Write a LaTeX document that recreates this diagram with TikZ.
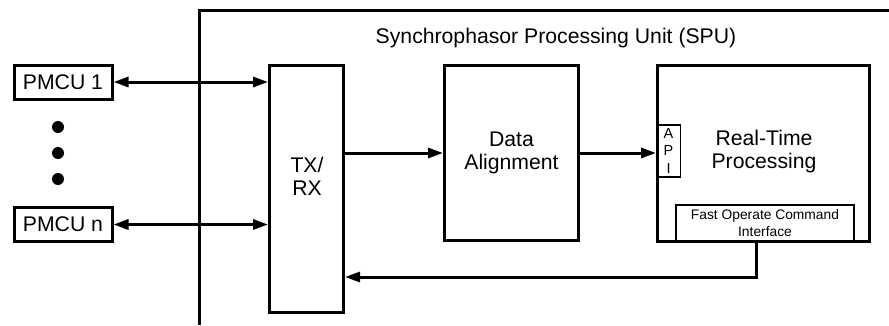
\documentclass[tikz,border=0pt]{standalone}
\usepackage{fontspec}
\setmainfont{Liberation Sans}
\usetikzlibrary{arrows.meta}
\tikzset{
  thickbox/.style={draw, line width=3pt, inner sep=0pt, font=\fontsize{21.2}{23}\selectfont, align=center},
  thinbox/.style={draw, line width=1.1pt, inner sep=0pt, align=center},
  conn/.style={line width=3pt},
  arr/.style={conn, -{Triangle[length=15pt,width=10pt]}},
  biarr/.style={conn, {Triangle[length=15pt,width=10pt]}-{Triangle[length=15pt,width=10pt]}},
  bigtext/.style={font=\fontsize{21.2}{23}\selectfont, align=center, inner sep=0pt},
  smalltext/.style={font=\fontsize{13.8}{17}\selectfont, align=center, inner sep=0pt},
}
\begin{document}
\begin{tikzpicture}[x=1pt, y=-1pt]
\useasboundingbox (0,0) rectangle (889,325);
% SPU frame (only top and left edges visible)
\coordinate (spuTR) at (889,10);
\coordinate (spuTL) at (199,10);
\coordinate (spuBL) at (199,325);
\draw[conn] (spuTR) -- (spuTL) -- (spuBL);
\node[bigtext] (spu) at (556,38) {Synchrophasor Processing Unit (SPU)};

% PMCUs
\node[thickbox, minimum width=98pt, minimum height=34pt] (pmcu1) at (63,82) {PMCU 1};
\node[thickbox, minimum width=98pt, minimum height=34pt] (pmcun) at (63,224.5) {PMCU n};
\fill (58,127) circle (6pt);
\fill (58,153) circle (6pt);
\fill (58,179) circle (6pt);

% TX/RX
\node[thickbox, minimum width=74pt, minimum height=247pt] (txrx) at (306.5,189) {};
\node[bigtext] (txrxlabel) at (307,176) {TX/\\RX};

% Data alignment
\node[thickbox, minimum width=134pt, minimum height=175pt] (da) at (511.5,153) {Data\\Alignment};

% Real-time processing
\node[thickbox, minimum width=212pt, minimum height=176pt] (rt) at (763.5,153.5) {};
\node[bigtext] (rtlabel) at (764,152) {Real-Time\\Processing};
\node[thinbox, minimum width=24pt, minimum height=52pt, anchor=west, font=\fontsize{14.5}{17.5}\selectfont] (api) at (rt.west |- 0,151) {A\\P\\I};
\node[thinbox, minimum width=178pt, minimum height=37pt, anchor=south] (fast) at (765,242.5) {};
\node[smalltext] (fastlabel) at (765,223.5) {Fast Operate Command\\Interface};

% connectors
\draw[biarr] (pmcu1.east) -- (pmcu1.east -| txrx.west);
\draw[biarr] (pmcun.east) -- (pmcun.east -| txrx.west);
\draw[arr] (txrx.east |- da.west) -- (da.west);
\draw[arr] (da.east) -- (da.east -| rt.west);
\coordinate (fbturn) at (756,277);
\draw[arr] (fast.south -| fbturn) -- (fbturn) -- (fbturn -| txrx.east);
\end{tikzpicture}
\end{document}
